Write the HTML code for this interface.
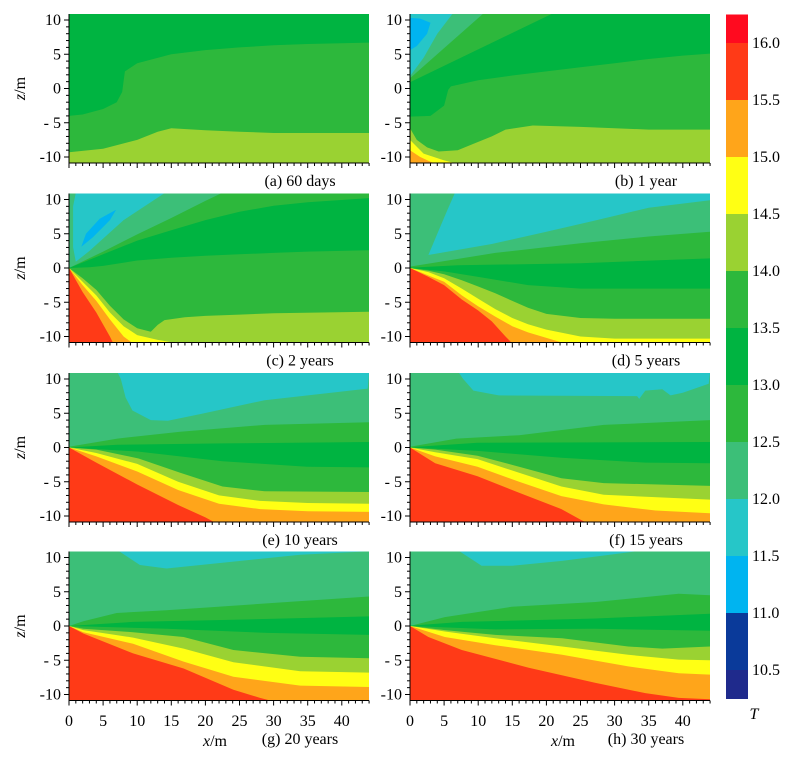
<!DOCTYPE html>
<html><head><meta charset="utf-8">
<style>
html,body{margin:0;padding:0;background:#fff;}
svg{display:block;font-family:"Liberation Serif",serif;}
</style></head>
<body>
<svg id="fig" width="792" height="757" viewBox="0 0 792 757" xmlns="http://www.w3.org/2000/svg"></svg>
<script>
// ---- data ----
const colorLevels = ['rd','or','ye','yg','mg2','dg','mg','te','cy','bl'];
const cbValues = [16.0,15.5,15.0,14.5,14.0,13.5,13.0,12.5,12.0,11.5,11.0,10.5];
const cbColors = ['#ff0a1f','#ff3a17','#ffa51a','#ffff14','#9ad232','#2db83c','#00b441','#2db83c','#3cbf78','#26c6c8','#00b4f0','#0a3a9a','#1f2a8c'];
const yTicks = [10,5,0,-5,-10];
const yTickLabels = ['10','5','0','- 5','-10'];
const xTicks = [0,5,10,15,20,25,30,35,40];
const panelLabels = ['(a) 60 days','(b) 1 year','(c) 2 years','(d) 5 years','(e) 10 years','(f) 15 years','(g) 20 years','(h) 30 years'];

const panelA = {bg:'dg', blobs:[], layers:[
 ['mg',[[0,-4],[2,-3.8],[5,-3],[7,-2],[7.8,-0.5],[8.2,2.5],[10,3.7],[15,5],[20,5.6],[25,6],[30,6.3],[35,6.5],[44,6.7]]],
 ['yg',[[0,-9.3],[5,-8.8],[10,-7.5],[13,-6.3],[15,-5.8],[20,-6.1],[25,-6.3],[30,-6.5],[44,-6.5]]]
]};
const panelB = {bg:'dg', blobs:[
 ['mg',[[0,11],[21,11],[0,0.9]]],
 ['te',[[0,11],[10.8,11],[0,1.5]]],
 ['cy',[[0,11],[6.3,11],[4,8],[2,4.5],[0,1.8]]],
 ['bl',[[0,10.3],[1.5,10.2],[3,9.6],[2.5,8],[1,6.2],[0,5.6]]]
], layers:[
 ['mg2',[[0,-4.1],[3,-4],[5,-2.5],[5.6,-0.2],[6,0.3],[10,1.2],[15,1.9],[20,2.5],[25,3.1],[30,3.7],[35,4.3],[40,4.8],[44,5.1]]],
 ['yg',[[0,-5.8],[1,-7.5],[2.5,-8.6],[4.2,-9.2],[7,-9],[9.5,-8],[12,-7],[14,-6],[18,-5.4],[25,-5.6],[30,-5.8],[35,-6],[44,-6]]],
 ['ye',[[0,-7.5],[2,-9.5],[5,-10.5],[7,-11],[8,-12]]],
 ['or',[[0,-9],[1.5,-10],[3,-10.7],[5,-11.5],[6,-12]]]
]};
const panelC = {bg:'te', blobs:[
 ['cy',[[1,11],[14.1,11],[8,7],[3,2.5],[1,0.9],[0.6,3],[0.6,9]]],
 ['bl',[[1.8,3.1],[2.5,5],[4.5,7.2],[6.9,8.5],[6,7],[3.5,4.5]]]
], layers:[
 ['mg',[[0,0],[5,2.4],[10,4.9],[15,7.3],[20,9.8],[22.5,11],[23,12],[44,12]]],
 ['dg',[[0,0],[5,2],[10,4],[15,5.5],[20,7],[25,8.2],[30,9.1],[35,9.6],[44,10.2]]],
 ['mg2',[[0,0],[3,0.1],[5,0.3],[10,1.1],[15,1.5],[20,1.8],[25,2],[30,2.2],[35,2.4],[44,2.6]]],
 ['yg',[[0,0],[2,-1.5],[4,-3.2],[6,-5.5],[8,-7.5],[10,-8.8],[12,-9.3],[13,-8.3],[14,-7.6],[17,-7.2],[20,-7],[25,-6.8],[30,-6.6],[44,-6.4]]],
 ['ye',[[0,0],[2,-2],[4,-4],[6,-6.5],[8,-8.5],[10,-9.8],[13,-10.5],[16,-11],[17,-12]]],
 ['or',[[0,0],[2,-2.5],[4,-4.8],[6,-7.5],[8,-10],[9.4,-11],[10,-12]]],
 ['rd',[[0,0],[2,-3.5],[4,-6.5],[6,-10],[6.5,-11],[7,-12]]]
]};
const panelD = {bg:'te', blobs:[
 ['cy',[[6.6,11],[44,11],[44,9.9],[35,8.8],[27,6.9],[20,5.3],[12,3.5],[2.7,1.9],[4,5],[5.5,8.5]]]
], layers:[
 ['mg',[[0,0.2],[5,1],[12.5,2.2],[25,3.6],[35,4.6],[44,5.3]]],
 ['dg',[[0,0.05],[7,0.4],[25,0.7],[44,1.4]]],
 ['mg2',[[0,0],[5,-0.5],[10,-1.3],[17.3,-2.5],[25,-3],[44,-3]]],
 ['yg',[[0,0],[2.7,-0.4],[5,-0.9],[7.6,-1.8],[10,-2.7],[12.5,-3.7],[15,-4.8],[17.3,-5.8],[20,-6.7],[25,-7.3],[30,-7.4],[44,-7.4]]],
 ['ye',[[0,0],[2.7,-0.6],[5,-1.5],[7.6,-3],[10,-4.5],[12.5,-6],[15,-7.3],[17.3,-8.2],[20,-9],[25,-10],[30,-10.3],[44,-10.3]]],
 ['or',[[0,0],[2.7,-1.1],[5,-2],[7.6,-4],[10,-5.6],[12.5,-7.1],[15,-8.5],[17.3,-9.4],[20,-10.2],[22.7,-11],[23,-12]]],
 ['rd',[[0,0],[2.7,-1.3],[5,-2.5],[7.6,-4.6],[10,-6.2],[12,-7.8],[14,-10],[15,-11],[15.5,-12]]]
]};
const panelE = {bg:'te', blobs:[
 ['cy',[[7.1,11],[44,11],[43.8,8.6],[28.7,6.9],[19.4,4.9],[14.5,3.9],[12,4.0],[9.3,5.4],[8.3,7.3],[7.6,10]]]
], layers:[
 ['mg',[[0,0.1],[7.1,1.3],[16.3,2.3],[28.7,3.3],[44,3.7]]],
 ['dg',[[0,0],[7.1,0.4],[22.5,0.6],[44,0.8]]],
 ['mg2',[[0,0],[10.2,-0.6],[22.5,-2],[34.9,-2.8],[44,-2.9]]],
 ['yg',[[0,0],[4,-0.3],[10.2,-1.6],[16.3,-3.7],[22.5,-5.7],[28.7,-6.4],[44,-6.5]]],
 ['ye',[[0,0],[4,-0.8],[10,-2.4],[16,-5],[22,-7],[28,-7.8],[35,-8.1],[44,-8.2]]],
 ['or',[[0,0],[4,-1.3],[10,-3.5],[16,-6.2],[22,-8.2],[28,-9.0],[35,-9.3],[44,-9.4]]],
 ['rd',[[0,0],[4,-2.2],[10,-5.4],[16,-8.4],[20,-10.2],[21.5,-11],[22,-12]]]
]};
const panelF = {bg:'te', blobs:[
 ['cy',[[7.1,11],[44,11],[43.8,9.3],[40,8.0],[38.2,7.6],[37,8.5],[34.5,8.3],[33.6,7.1],[33.3,7.5],[13,7.6],[9.3,8.3],[7.8,10]]]
], layers:[
 ['mg',[[0,0.1],[6.8,1.3],[16,1.8],[28.4,3.3],[44,4]]],
 ['dg',[[0,0.05],[9.9,0.7],[44,0.8]]],
 ['mg2',[[0,0],[9.9,-0.5],[22.2,-1.5],[34.5,-2.2],[44,-2.3]]],
 ['yg',[[0,0],[3.7,-0.3],[9.9,-1.2],[16,-2.8],[22.2,-4.5],[28.4,-5.2],[44,-5.6]]],
 ['ye',[[0,0],[3.7,-0.7],[9.9,-1.7],[16,-3.7],[22.2,-5.7],[28.4,-6.9],[44,-7.6]]],
 ['or',[[0,0],[3.7,-1.3],[9.9,-2.8],[16,-5],[22.2,-7.1],[28.4,-8.3],[36,-9.2],[44,-9.6]]],
 ['rd',[[0,0],[3.7,-2.3],[9.9,-4.2],[16,-6.6],[22.2,-9],[25.3,-10.7],[26,-11],[26.5,-12]]]
]};
const panelG = {bg:'te', blobs:[
 ['cy',[[7.2,11],[10.4,8.9],[14.3,8.4],[24.1,9.4],[33.9,10.4],[44,10.9],[44,11]]]
], layers:[
 ['mg',[[0,0],[2.1,0.7],[7,1.9],[14.3,2.3],[29,3.3],[44,4.3]]],
 ['dg',[[0,0],[9.4,0.6],[24.1,0.9],[44,1.4]]],
 ['mg2',[[0,0],[14.3,-0.4],[29,-1.0],[44,-1.3]]],
 ['yg',[[0,0],[2.1,-0.4],[9.4,-0.9],[16.8,-1.6],[24.1,-3.5],[33.9,-4.5],[44,-4.7]]],
 ['ye',[[0,0],[2.1,-0.6],[9.4,-1.7],[16.8,-3.3],[24.1,-5.3],[33.9,-6.6],[44,-6.8]]],
 ['or',[[0,0],[2.1,-0.9],[9.4,-2.6],[16.8,-5.2],[24.1,-7.4],[33.9,-8.7],[44,-8.9]]],
 ['rd',[[0,0],[2.1,-1.1],[9.4,-4.0],[16.8,-6.2],[24.1,-9.3],[28,-10.5],[30,-11],[31,-12]]]
]};
const panelH = {bg:'te', blobs:[
 ['cy',[[7.1,11],[10.5,8.8],[15,8.8],[22.3,9.5],[30,10.5],[34,11]]]
], layers:[
 ['mg',[[0,0],[5.1,1.3],[14.9,2.8],[27.2,3.5],[39.4,4.7],[44,4.5]]],
 ['dg',[[0,0.05],[7.6,0.6],[27.2,1.1],[44,1.8]]],
 ['mg2',[[0,0],[12.5,-0.5],[27,-0.4],[44,-0.7]]],
 ['yg',[[0,0],[5.1,-0.6],[12.5,-1.3],[22.3,-1.8],[32,-3],[37,-3.3],[44,-3]]],
 ['ye',[[0,0],[5.1,-0.8],[12.5,-1.8],[22.3,-3],[32,-4.2],[39.4,-4.9],[44,-5]]],
 ['or',[[0,0],[5.1,-1.6],[12.5,-2.8],[22.3,-4.2],[32,-5.9],[39.4,-6.9],[44,-7.1]]],
 ['rd',[[0,0],[2.7,-1.6],[7.6,-3.5],[17.4,-6.1],[27.2,-8.3],[34.5,-9.8],[39.4,-10.5],[44,-10.7]]]
]};
const panels = [panelA,panelB,panelC,panelD,panelE,panelF,panelG,panelH];

// ---- layout / scales ----
const COLOR = {cy:'#26c6c8', bl:'#00b4f0', te:'#3cbf78', mg:'#2db83c', mg2:'#2db83c', dg:'#00b441', yg:'#9ad232', ye:'#ffff14', or:'#ffa51a', rd:'#ff3a17'};
const X0 = [69, 410], Z0 = [88.5, 268, 447.5, 626];
const PXM = 6.82, PZM = 6.85, PW = 300, PH2 = 74.5;
const FS = 16;
const NS = 'http://www.w3.org/2000/svg';
const svg = document.getElementById('fig');
function sx(c, x){ return X0[c] + x*PXM; }
function sz(r, z){ return Z0[r] - z*PZM; }
function mk(tag, attrs, parent){ const e=document.createElementNS(NS,tag); for(const k in attrs) e.setAttribute(k,attrs[k]); (parent||svg).appendChild(e); return e; }

const defs = mk('defs',{});
panels.forEach((p,i)=>{
  const c=i%2, r=Math.floor(i/2);
  const cp = mk('clipPath',{id:'clip'+i},defs);
  mk('rect',{x:X0[c],y:Z0[r]-PH2,width:PW,height:PH2*2},cp);
  const g = mk('g',{'clip-path':'url(#clip'+i+')'});
  
  
  const bg = mk('rect',{x:X0[c],y:Z0[r]-PH2,width:PW,height:PH2*2,fill:COLOR[p.bg]},g);
  
  
  p.blobs.forEach(b=>{
    const pts=b[1].map(q=>sx(c,q[0]).toFixed(1)+','+sz(r,q[1]).toFixed(1)).join(' ');
    const el=mk('polygon',{points:pts,fill:COLOR[b[0]]},g);
    
    
  });
  p.layers.forEach(l=>{
    const pts=l[1].map(q=>[q[0],q[1]]);
    const last=pts[pts.length-1];
    pts.push([46,last[1]]);
    pts.push([46,-13]); pts.push([-1,-13]); pts.push([-1,pts[0][1]]);
    const s=pts.map(q=>sx(c,q[0]).toFixed(1)+','+sz(r,q[1]).toFixed(1)).join(' ');
    const el=mk('polygon',{points:s,fill:COLOR[l[0]]},g);
    
    
  });
  const ax = mk('g',{stroke:'#000','stroke-width':1});
  
  
  const yb=Z0[r]+PH2, xl=X0[c];
  mk('line',{x1:xl,y1:Z0[r]-PH2,x2:xl,y2:yb},ax);
  mk('line',{x1:xl,y1:yb,x2:xl+PW,y2:yb},ax);
  for(let z=-10; z<=10; z++){
    const major = z%5===0;
    mk('line',{x1:xl-(major?5:3),y1:sz(r,z),x2:xl,y2:sz(r,z)},ax);
  }
  for(let x=0; x<=44; x++){
    const major = x%5===0;
    mk('line',{x1:sx(c,x),y1:yb,x2:sx(c,x),y2:yb+(major?5:3)},ax);
  }
  yTicks.forEach((z,k)=>{
    const t=mk('text',{x:xl-8,y:sz(r,z)+5,'text-anchor':'end','font-size':FS});
    t.textContent=yTickLabels[k];
    
    
  });
  if(r===3){
    xTicks.forEach(x=>{
      const t=mk('text',{x:sx(c,x),y:726,'text-anchor':'middle','font-size':FS});
      t.textContent=String(x);
      
      
    });
  }
  const cap=mk('text',{x:c===0?300:646,y:r===3?744:yb+23,'text-anchor':'middle','font-size':FS});
  cap.textContent=panelLabels[i];
  
  
});
Z0.forEach(z0=>{
  const t=mk('text',{x:0,y:0,'text-anchor':'middle','font-size':FS,transform:'translate(25,'+z0+') rotate(-90)'});
  t.innerHTML='<tspan font-style="italic">z</tspan>/m';
  
  
});
[215,563].forEach(xc=>{
  const t=mk('text',{x:xc,y:746,'text-anchor':'middle','font-size':FS});
  t.innerHTML='<tspan font-style="italic">x</tspan>/m';
  
  
});
const cb=mk('g',{});


function cbY(v){ return 43 + (16-v)*114; }
const edges=[16.25].concat(cbValues).concat([10.25]);
for(let k=0;k<cbColors.length;k++){
  const y1=cbY(edges[k]), y2=cbY(edges[k+1]);
  const rc=mk('rect',{x:726,y:y1,width:22,height:y2-y1+0.5,fill:cbColors[k]},cb);
  
  
}
cbValues.forEach(v=>{
  const t=mk('text',{x:752,y:cbY(v)+5,'font-size':FS},cb);
  t.textContent=v.toFixed(1);
  
  
});
const tt=mk('text',{x:754,y:719,'font-size':FS,'font-style':'italic','text-anchor':'middle'},cb);
tt.textContent='T';


</script>
</body></html>
